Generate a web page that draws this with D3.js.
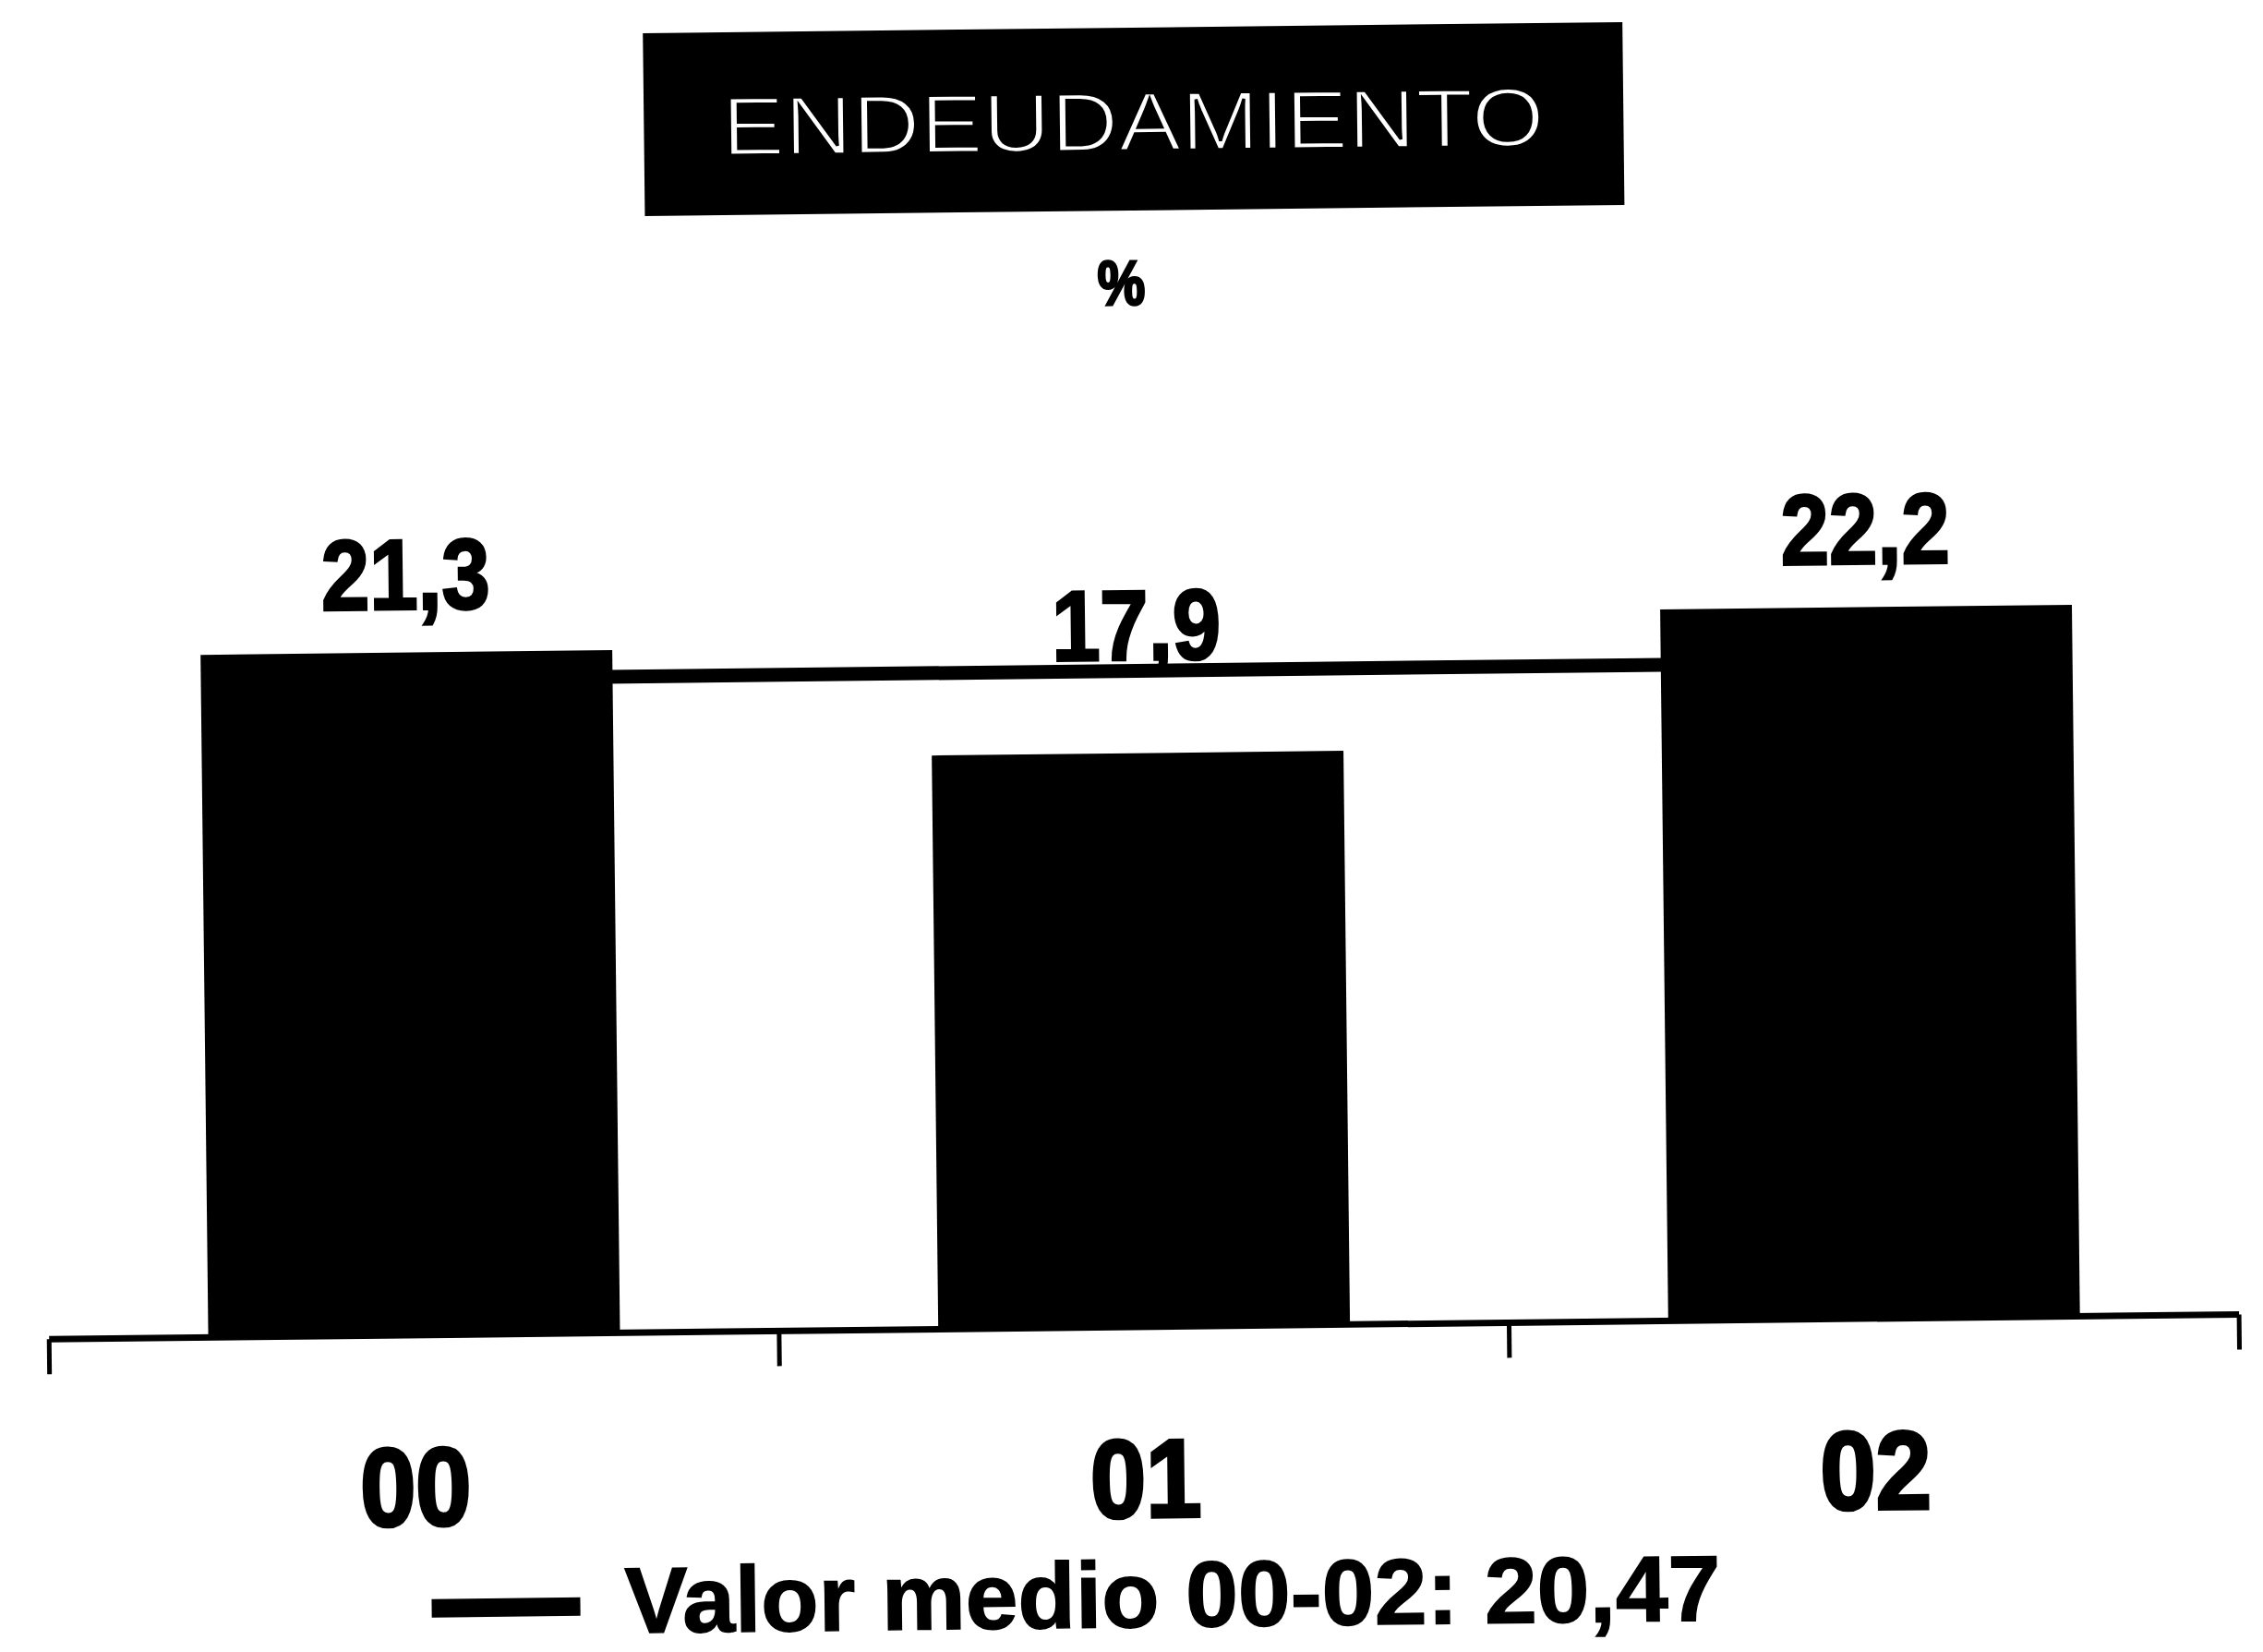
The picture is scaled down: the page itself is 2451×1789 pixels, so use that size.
<!DOCTYPE html>
<html>
<head>
<meta charset="utf-8">
<script src="https://cdn.jsdelivr.net/npm/d3@7"></script>
<style>
  html, body { margin: 0; padding: 0; background: #fff; }
  svg { display: block; }
</style>
</head>
<body>
<script>
// Debt ratio by year, with the 00-02 average as a reference line
const categories = ["00", "01", "02"];
const values = [21.3, 17.9, 22.2];
const meanValue = 20.47;
const meanPeriod = "00-02";
const titleText = "ENDEUDAMIENTO";
const unitText = "%";

const W = 2451, H = 1789;
const es = d3.formatLocale({ decimal: ",", thousands: ".", grouping: [3], currency: ["", "\u00a0€"] });
const fmt1 = es.format(".1f");
const fmt2 = es.format(".2f");

const font = "'Liberation Sans', Arial, Helvetica, sans-serif";

const svg = d3.select("body").append("svg")
  .attr("width", W).attr("height", H)
  .attr("viewBox", `0 0 ${W} ${H}`);
svg.append("rect").attr("width", W).attr("height", H).attr("fill", "#fff");

// the whole sheet sits slightly askew
const g = svg.append("g").attr("transform", "rotate(-0.65,1225,894)");

// squeeze a text element horizontally to a narrow face
function condense(sel, k) {
  sel.each(function () {
    const w = this.getComputedTextLength();
    d3.select(this).attr("textLength", w * k).attr("lengthAdjust", "spacingAndGlyphs");
  });
}

const x = d3.scaleBand()
  .domain(categories)
  .range([47, 2419])
  .paddingInner(0.436)
  .paddingOuter(0.218);

const y = d3.scaleLinear()
  .domain([0, 24])
  .range([1437, 604]);

// title block
g.append("rect")
  .attr("x", 706).attr("y", 30)
  .attr("width", 1061).attr("height", 198)
  .attr("fill", "#000");
g.append("text")
  .attr("x", 1236).attr("y", 163)
  .attr("text-anchor", "middle")
  .attr("font-family", font)
  .attr("font-size", 90)
  .attr("fill", "#fff")
  .attr("stroke", "#000")
  .attr("stroke-width", 3)
  .attr("textLength", 891)
  .attr("lengthAdjust", "spacingAndGlyphs")
  .text(titleText);

g.append("text")
  .attr("x", 1221).attr("y", 330)
  .attr("text-anchor", "middle")
  .attr("font-family", font)
  .attr("font-weight", "bold")
  .attr("font-size", 68)
  .attr("fill", "#000")
  .attr("stroke", "#000")
  .attr("stroke-width", 3)
  .text(unitText)
  .call(condense, 0.85);

// average line (runs behind the bars)
const meanLine = d3.line()
  .x(d => x(d) + x.bandwidth() / 2)
  .y(() => y(meanValue));
g.append("path")
  .datum(categories)
  .attr("d", meanLine)
  .attr("fill", "none")
  .attr("stroke", "#000")
  .attr("stroke-width", 15);

// bars
g.selectAll("rect.bar")
  .data(values)
  .join("rect")
  .attr("class", "bar")
  .attr("x", (d, i) => x(categories[i]))
  .attr("y", d => y(d))
  .attr("width", x.bandwidth())
  .attr("height", d => y(0) - y(d))
  .attr("fill", "#000");

// category axis: baseline with ticks on the band boundaries
const step = x.step();
const r0 = x.range()[0];
g.append("line")
  .attr("x1", r0).attr("x2", x.range()[1])
  .attr("y1", y(0)).attr("y2", y(0))
  .attr("stroke", "#000").attr("stroke-width", 7);
g.selectAll("line.tick")
  .data(d3.range(categories.length + 1))
  .join("line")
  .attr("class", "tick")
  .attr("x1", i => r0 + i * step).attr("x2", i => r0 + i * step)
  .attr("y1", y(0)).attr("y2", y(0) + 38)
  .attr("stroke", "#000").attr("stroke-width", 5);

g.selectAll("text.cat")
  .data(categories)
  .join("text")
  .attr("class", "cat")
  .attr("x", d => x(d) + x.bandwidth() / 2)
  .attr("y", 1643)
  .attr("text-anchor", "middle")
  .attr("font-family", font)
  .attr("font-weight", "bold")
  .attr("font-size", 120)
  .attr("fill", "#000")
  .attr("stroke", "#000")
  .attr("stroke-width", 4)
  .text(d => d)
  .call(condense, 0.9);

// value labels; one that would collide with the average line sits just above it
const lineTop = y(meanValue) - 7;
g.selectAll("text.val")
  .data(values)
  .join("text")
  .attr("class", "val")
  .attr("x", (d, i) => x(categories[i]) + x.bandwidth() / 2)
  .attr("y", d => {
    const base = y(d) - 47;
    return base - 80 < lineTop + 14 && base > lineTop ? lineTop - 5 : base;
  })
  .attr("text-anchor", "middle")
  .attr("font-family", font)
  .attr("font-weight", "bold")
  .attr("font-size", 108)
  .attr("fill", "#000")
  .attr("stroke", "#000")
  .attr("stroke-width", 3)
  .text(d => fmt1(d))
  .call(condense, 0.87);

// legend
g.append("line")
  .attr("x1", 458).attr("x2", 619)
  .attr("y1", 1733).attr("y2", 1733)
  .attr("stroke", "#000").attr("stroke-width", 20);
g.append("text")
  .attr("x", 667).attr("y", 1762)
  .attr("font-family", font)
  .attr("font-weight", "bold")
  .attr("font-size", 101)
  .attr("fill", "#000")
  .attr("stroke", "#000")
  .attr("stroke-width", 1.5)
  .attr("textLength", 1187)
  .attr("lengthAdjust", "spacingAndGlyphs")
  .text(`Valor medio ${meanPeriod}: ${fmt2(meanValue)}`);
</script>
</body>
</html>
